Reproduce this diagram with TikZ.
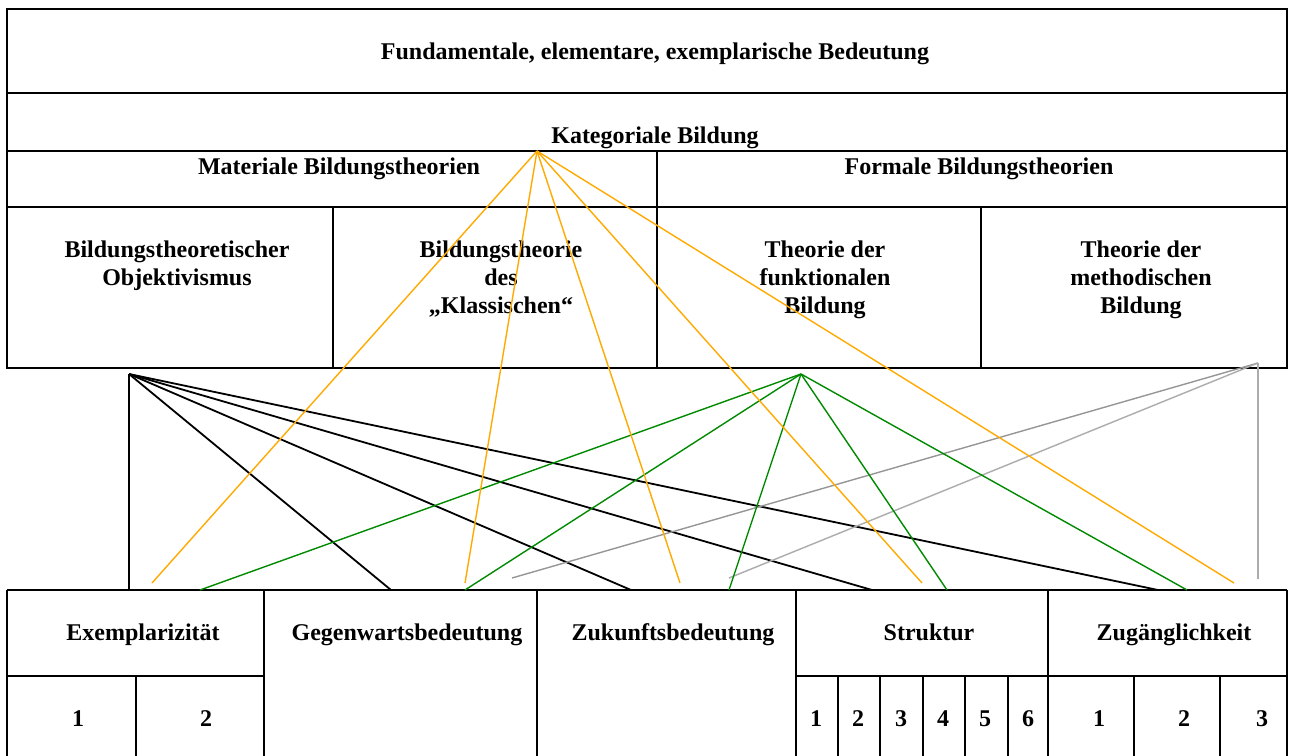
\documentclass[tikz,border=0pt]{standalone}
\usepackage{fontspec}
\setmainfont{Liberation Serif}
\definecolor{lineorange}{RGB}{255,170,0}
\definecolor{linegreen}{RGB}{0,138,0}
\definecolor{greydark}{RGB}{150,150,150}
\definecolor{greylight}{RGB}{172,172,172}
\begin{document}
\begin{tikzpicture}[x=1bp,y=-1bp,
  frame/.style={line width=2.2bp},
  thinframe/.style={line width=1.6bp},
  cell/.style={font=\bfseries\fontsize{24bp}{28bp}\selectfont, align=center, inner sep=0pt, anchor=base},
  kat/.style={draw=lineorange, line width=1.4bp},
  obj/.style={draw=black, line width=1.8bp},
  fun/.style={draw=linegreen, line width=1.4bp},
  met/.style={line width=1.4bp}]
\useasboundingbox[fill=white] (0,0) rectangle (1292,756);
\clip (0,0) rectangle (1292,756);

% upper table: theories of education
\draw[frame] (7,9) rectangle (1287,368);
\draw[frame] (7,93) -- (1287,93);
\draw[frame] (7,151) -- (1287,151);
\draw[frame] (7,207) -- (1287,207);
\draw[frame] (657,151) -- (657,368);
\draw[thinframe] (333,207) -- (333,368);
\draw[thinframe] (981,207) -- (981,368);

% multi-line cells are anchored at the baseline of their last line
\node[cell] (fund) at (655,60) {Fundamentale, elementare, exemplarische Bedeutung};
\node[cell] (katb) at (655,143) {Kategoriale Bildung};
\node[cell] (mat) at (339,174) {Materiale Bildungstheorien};
\node[cell] (form) at (979,174) {Formale Bildungstheorien};
\node[cell] (objv) at (177,285) {Bildungstheoretischer\\Objektivismus};
\node[cell] (klass) at (501,313) {Bildungstheorie\\des\\„Klassischen“};
\node[cell] (funk) at (825,313) {Theorie der\\funktionalen\\Bildung};
\node[cell] (meth) at (1141,313) {Theorie der\\methodischen\\Bildung};

% lower table: criteria
\draw[frame] (7,590) -- (1287,590);
\foreach \x in {7,264,537,796,1048,1287} \draw[frame] (\x,590) -- (\x,770);
\draw[frame] (7,676) -- (264,676);
\draw[frame] (796,676) -- (1287,676);
\draw[frame] (136,676) -- (136,770);
\foreach \x in {838,880,923,965,1008,1134,1220} \draw[frame] (\x,676) -- (\x,770);

\node[cell] (exe) at (143,640) {Exemplarizität};
\node[cell] (geg) at (407,640) {Gegenwartsbedeutung};
\node[cell] (zuk) at (673,640) {Zukunftsbedeutung};
\node[cell] (str) at (929,640) {Struktur};
\node[cell] (zug) at (1174,640) {Zugänglichkeit};

\node[cell] (e1) at (78,726) {1};
\node[cell] (e2) at (206,726) {2};
\node[cell] (s1) at (816,726) {1};
\node[cell] (s2) at (858,726) {2};
\node[cell] (s3) at (901,726) {3};
\node[cell] (s4) at (943,726) {4};
\node[cell] (s5) at (985,726) {5};
\node[cell] (s6) at (1028,726) {6};
\node[cell] (z1) at (1099,726) {1};
\node[cell] (z2) at (1184,726) {2};
\node[cell] (z3) at (1262,726) {3};

% fan points of the connectors
\coordinate (katA) at (537,151);
\coordinate (objA) at (129,374);
\coordinate (funA) at (801,374);
\coordinate (metA) at (1258,363);

% ends on the criteria row
\coordinate (k1) at (152,583);
\coordinate (k2) at (465,583);
\coordinate (k3) at (680,583);
\coordinate (k4) at (922,583);
\coordinate (k5) at (1234,583);
\coordinate (o1) at (129,590);
\coordinate (o2) at (391,590);
\coordinate (o3) at (631,590);
\coordinate (o4) at (872,590);
\coordinate (o5) at (1158,590);
\coordinate (f1) at (200,590);
\coordinate (f2) at (465,590);
\coordinate (f3) at (729,590);
\coordinate (f4) at (947,590);
\coordinate (f5) at (1187,590);
\coordinate (m1) at (512,578);
\coordinate (m2) at (729,578);
\coordinate (m3) at (1258,579);

\foreach \e in {o1,o2,o3,o4,o5} \draw[obj] (objA) -- (\e);
\draw[met, draw=greydark] (metA) -- (m1);
\draw[met, draw=greylight] (metA) -- (m2);
\draw[met, draw=greylight] (metA) -- (m3);
\foreach \e in {f1,f2,f3,f4,f5} \draw[fun] (funA) -- (\e);
\foreach \e in {k1,k2,k3,k4,k5} \draw[kat] (katA) -- (\e);
\end{tikzpicture}
\end{document}
